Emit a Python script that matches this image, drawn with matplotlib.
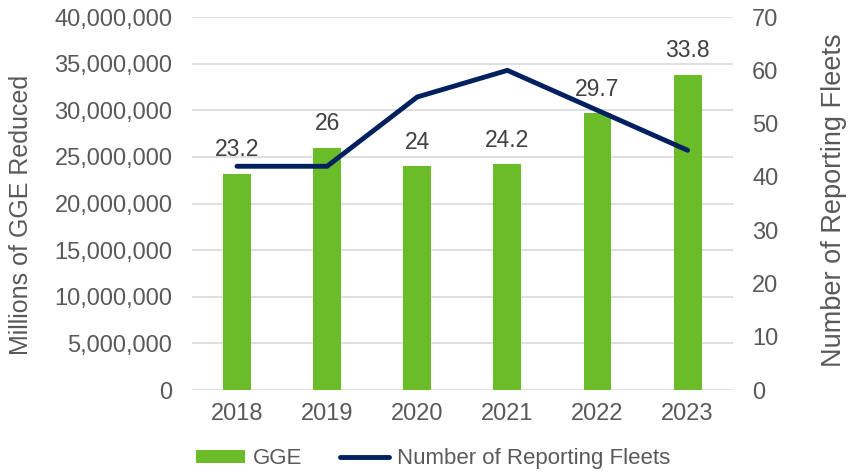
import matplotlib; matplotlib.use("Agg")
import matplotlib.pyplot as plt
from matplotlib.ticker import FuncFormatter

years=["2018","2019","2020","2021","2022","2023"]
gge=[23200000,26000000,24000000,24200000,29700000,33800000]
gge_labels=["23.2","26","24","24.2","29.7","33.8"]
fleets=[42,42,55,60,52.5,45]

plt.rcParams["font.family"]=["Liberation Sans","DejaVu Sans"]
TXT="#595959"
fig=plt.figure(figsize=(8.49,4.74),dpi=100)
ax=fig.add_axes([0.226,0.177,0.637,0.787])
x=range(len(years))
ax.bar(x,gge,width=0.31,color="#6abd28",label="GGE",zorder=2)
for i,(v,l) in enumerate(zip(gge,gge_labels)):
    ax.annotate(l,(i,v),xytext=(0,9),textcoords="offset points",ha="center",va="bottom",fontsize=16.5,color="#404040")
ax.set_ylim(0,40000000); ax.set_yticks(range(0,40000001,5000000))
ax.yaxis.set_major_formatter(FuncFormatter(lambda v,p:f"{int(v):,}"))
ax.set_xlim(-0.5,5.5); ax.set_xticks(list(x)); ax.set_xticklabels(years)
ax.grid(axis="y",color="#d9d9d9",lw=1.2,zorder=0)
ax.set_ylabel("Millions of GGE Reduced",fontsize=18,color=TXT)
ax.yaxis.set_label_coords(-0.294,0.47)
ax2=ax.twinx()
ax2.plot(x,fleets,color="#002060",lw=3.5,solid_capstyle="round",label="Number of Reporting Fleets",zorder=3)
ax2.set_ylim(0,70); ax2.set_yticks(range(0,71,10))
ax2.set_ylabel("Number of Reporting Fleets",fontsize=19.5,color=TXT)
ax2.yaxis.set_label_coords(1.163,0.51)
for a in (ax,ax2):
    for s in a.spines.values(): s.set_visible(False)
    a.tick_params(length=0,labelsize=17,labelcolor=TXT,pad=14)
ax.tick_params(axis="x",pad=9)
ax.set_axisbelow(True)
h1,l1=ax.get_legend_handles_labels(); h2,l2=ax2.get_legend_handles_labels()
fig.legend(h1+h2,l1+l2,loc="center",bbox_to_anchor=(0.51,0.032),ncol=2,frameon=False,
           fontsize=16,labelcolor=TXT,handlelength=2.2,columnspacing=1.7,handletextpad=0.35,handleheight=0.55)
fig.savefig("out.png",dpi=100)
